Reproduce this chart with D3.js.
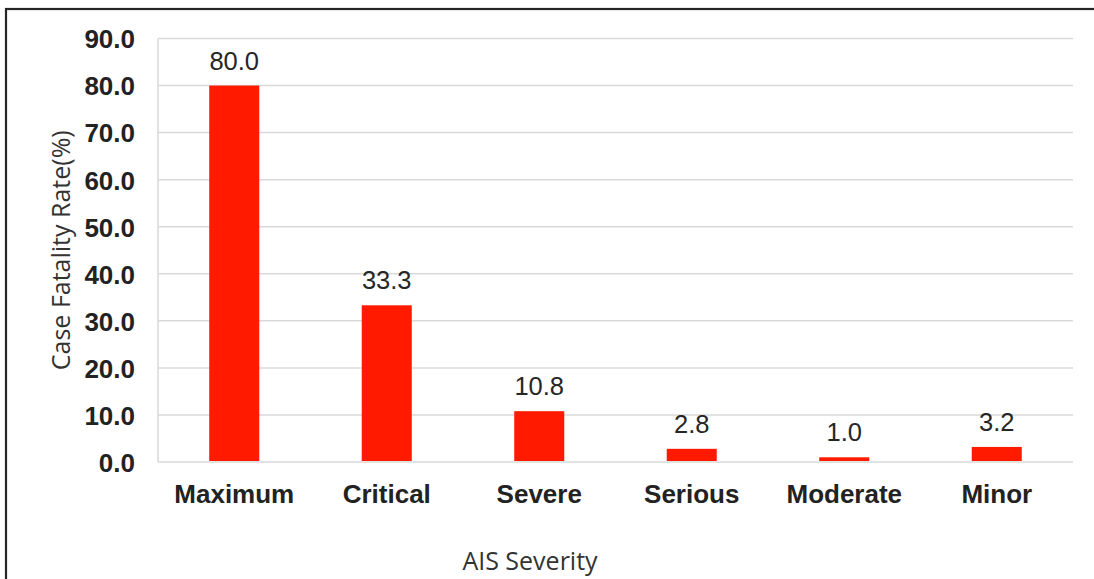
<!DOCTYPE html>
<html>
<head>
<meta charset="utf-8">
<script src="https://cdn.jsdelivr.net/npm/d3@7"></script>
<style>
html,body{margin:0;padding:0;background:#fff;}
svg{display:block;}
</style>
</head>
<body>
<svg id="chart" width="1094" height="579"></svg>
<script>
const categories = ["Maximum","Critical","Severe","Serious","Moderate","Minor"];
const values = [80.0, 33.3, 10.8, 2.8, 1.0, 3.2];
const yTicks = [0,10,20,30,40,50,60,70,80,90];

(function(){
const svg = d3.select("#chart");
const W = 1094, H = 579;
const mLeft = 158, mRight = 1073, mTop = 38.5, mBottom = 462;

svg.append("rect").attr("x",0).attr("y",0).attr("width",W).attr("height",H).attr("fill","#fff");
// outer border
svg.append("rect").attr("x",6).attr("y",9).attr("width",1100).attr("height",600)
  .attr("fill","none").attr("stroke","#262626").attr("stroke-width",2.2);

const x = d3.scaleBand().domain(categories).range([mLeft,mRight]).paddingInner(0.672).paddingOuter(0.336);
const y = d3.scaleLinear().domain([0,90]).range([mBottom,mTop]);

// gridlines
svg.append("g").selectAll("line").data(yTicks).join("line")
  .attr("x1",mLeft).attr("x2",mRight)
  .attr("y1",d=>y(d)).attr("y2",d=>y(d))
  .attr("stroke","#d9d9d9").attr("stroke-width",1.5);
// left axis line
svg.append("line").attr("x1",mLeft).attr("x2",mLeft).attr("y1",mTop).attr("y2",mBottom)
  .attr("stroke","#d9d9d9").attr("stroke-width",1.5);

// y axis labels
const yAxis = d3.axisLeft(y).tickValues(yTicks).tickFormat(d3.format(".1f")).tickSize(0).tickPadding(0);
const gy = svg.append("g").attr("transform",`translate(135,0)`).call(yAxis);
gy.select(".domain").remove();
gy.selectAll("text").attr("font-family","'Liberation Sans', Arial, sans-serif")
  .attr("font-size",26).attr("font-weight","bold").attr("fill","#222").attr("dy","0.36em");

// bars
svg.append("g").selectAll("rect").data(values).join("rect")
  .attr("x",(d,i)=>x(categories[i]))
  .attr("width",x.bandwidth())
  .attr("y",d=>y(d))
  .attr("height",d=>y(0)-y(d)-1)
  .attr("fill","#ff1a00");

// data labels
svg.append("g").selectAll("text").data(values).join("text")
  .attr("x",(d,i)=>x(categories[i])+x.bandwidth()/2)
  .attr("y",d=>y(d)-16)
  .attr("text-anchor","middle")
  .attr("font-family","'Liberation Sans', Arial, sans-serif")
  .attr("font-size",25.5).attr("fill","#262626")
  .text(d=>d3.format(".1f")(d));

// x axis labels
const xAxis = d3.axisBottom(x).tickSize(0).tickPadding(0);
const gx = svg.append("g").attr("transform",`translate(0,${mBottom})`).call(xAxis);
gx.select(".domain").remove();
gx.selectAll("text").attr("font-family","'Liberation Sans', Arial, sans-serif")
  .attr("font-size",26).attr("font-weight","bold").attr("fill","#222")
  .attr("y",41).attr("dy",0);

// axis titles
svg.append("text").attr("x",530).attr("y",570).attr("text-anchor","middle")
  .attr("font-family","'Open Sans', sans-serif").attr("font-size",25).attr("fill","#333")
  .text("AIS Severity");
svg.append("text").attr("transform",`translate(70,${(mTop+mBottom)/2}) rotate(-90)`)
  .attr("text-anchor","middle")
  .attr("font-family","'Open Sans', sans-serif").attr("font-size",25).attr("fill","#333")
  .text("Case Fatality Rate(%)");
})();
</script>
</body>
</html>
